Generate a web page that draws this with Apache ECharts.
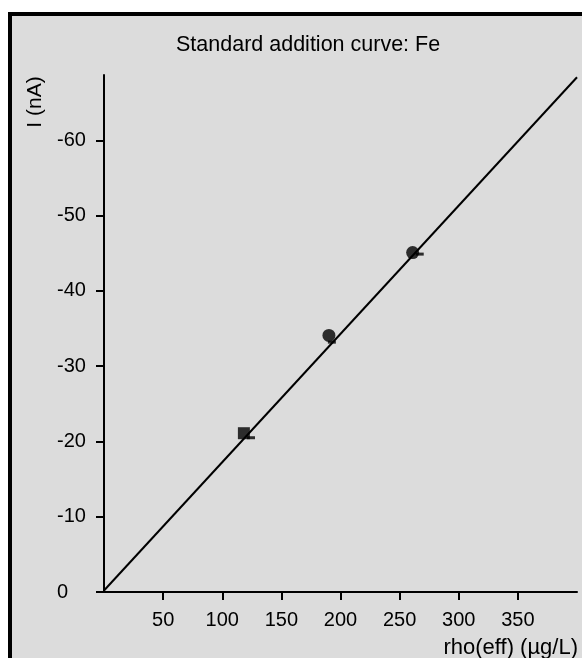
<!DOCTYPE html>
<html>
<head>
<meta charset="utf-8">
<script src="https://cdn.jsdelivr.net/npm/echarts@6/dist/echarts.min.js"></script>
<style>
  html, body { margin: 0; padding: 0; background: #fff; }
  #frame {
    position: absolute; left: 8px; top: 12px; width: 600px; height: 700px;
    border-left: 4px solid #000; border-top: 4px solid #000;
    background: #dcdcdc;
  }
  #chart { position: absolute; left: 0; top: 0; width: 582px; height: 658px; }
</style>
</head>
<body>
<div id="frame"></div>
<div id="chart"></div>
<script>
// sample (square) and standard additions (circles)
var sampleConc = [118.3];
var sampleCurrent = [-21.1];
var additionConc = [190.2, 261.0];
var additionCurrent = [-34.1, -45.1];
// small dash marks beside each point
var dashConc = [124.3, 192.7, 267.0];
var dashCurrent = [-20.5, -33.2, -44.9];
// fitted line ends
var fitConc = [0, 400];
var fitCurrent = [-0.2, -68.4];
// ticks
var xTicks = [50, 100, 150, 200, 250, 300, 350];
var yTicks = [0, -10, -20, -30, -40, -50, -60];

function pairs(xs, ys) {
    return xs.map(function (x, i) { return [x, ys[i]]; });
}

var font = 'Liberation Sans';
var myChart = echarts.init(document.getElementById('chart'));
var option = {
    backgroundColor: 'transparent',
    animation: false,
    title: {
        text: 'Standard addition curve: Fe',
        left: 171,
        top: 29,
        textStyle: { color: '#000', fontFamily: font, fontSize: 21.5, fontWeight: 'normal' }
    },
    grid: { left: 104, top: 75, right: 5, bottom: 66 },
    xAxis: {
        type: 'value',
        min: 0,
        max: 400,
        splitLine: { show: false },
        axisLine: { onZero: false, lineStyle: { color: '#000', width: 2 } },
        axisTick: { customValues: xTicks, length: 8, lineStyle: { color: '#000', width: 2 } },
        axisLabel: {
            customValues: xTicks, margin: 18,
            color: '#000', fontFamily: font, fontSize: 20
        }
    },
    yAxis: {
        type: 'value',
        min: -68.7,
        max: 0,
        inverse: true,
        splitLine: { show: false },
        axisLine: { onZero: false, lineStyle: { color: '#000', width: 2 } },
        axisTick: { customValues: yTicks, length: 8, lineStyle: { color: '#000', width: 2 } },
        axisLabel: {
            customValues: yTicks, margin: 47, align: 'left',
            color: '#000', fontFamily: font, fontSize: 20
        }
    },
    graphic: [
        {
            type: 'text', x: 35, y: 102, rotation: Math.PI / 2,
            style: { text: 'I (nA)', x: 0, y: 0, align: 'center', verticalAlign: 'middle',
                     fill: '#000', font: '21px "Liberation Sans"' }
        },
        {
            type: 'text', x: 578, y: 648,
            style: { text: 'rho(eff) (µg/L)', x: 0, y: 0, align: 'right', verticalAlign: 'middle',
                     fill: '#000', font: '22px "Liberation Sans"' }
        }
    ],
    series: [
        {
            name: 'fit',
            type: 'line',
            data: pairs(fitConc, fitCurrent),
            symbol: 'none',
            lineStyle: { color: '#000', width: 2 },
            z: 2
        },
        {
            name: 'dash',
            type: 'scatter',
            data: pairs(dashConc, dashCurrent),
            symbol: 'rect',
            symbolSize: [8, 3],
            itemStyle: { color: '#000' },
            z: 3
        },
        {
            name: 'sample',
            type: 'scatter',
            data: pairs(sampleConc, sampleCurrent),
            symbol: 'rect',
            symbolSize: 12,
            itemStyle: { color: '#000' },
            z: 4
        },
        {
            name: 'additions',
            type: 'scatter',
            data: pairs(additionConc, additionCurrent),
            symbol: 'circle',
            symbolSize: 13,
            itemStyle: { color: '#000' },
            z: 4
        }
    ]
};
myChart.setOption(option);
</script>
</body>
</html>
